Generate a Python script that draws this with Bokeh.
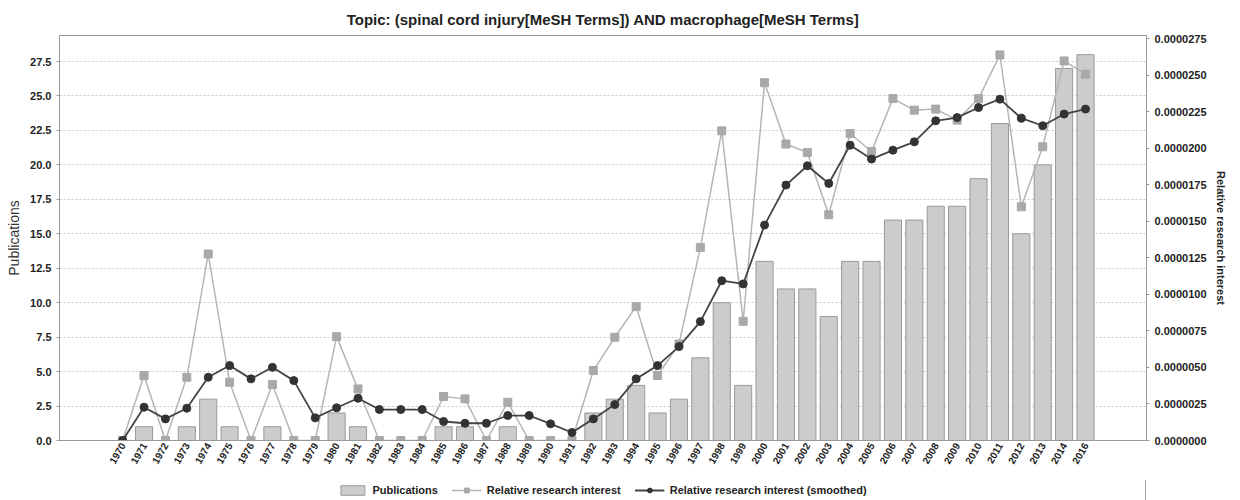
import math
from bokeh.plotting import figure
from bokeh.layouts import column
from bokeh.models import (Range1d, LinearAxis, FixedTicker, PrintfTickFormatter,
                          Legend, LegendItem, ColumnDataSource)
from bokeh.embed import file_html
from bokeh.resources import INLINE

years = ["1970", "1971", "1972", "1973", "1974", "1975", "1976", "1977", "1978", "1979",
         "1980", "1981", "1982", "1983", "1984", "1985", "1986", "1987", "1988", "1989",
         "1990", "1991", "1992", "1993", "1994", "1995", "1996", "1997", "1998", "1999",
         "2000", "2001", "2002", "2003", "2004", "2005", "2006", "2007", "2008", "2009",
         "2010", "2011", "2012", "2013", "2014", "2016"]

publications = [0, 1, 0, 1, 3, 1, 0, 1, 0, 0,
                2, 1, 0, 0, 0, 1, 1, 0, 1, 0,
                0, 0, 2, 3, 4, 2, 3, 6, 10, 4,
                13, 11, 11, 9, 13, 13, 16, 16, 17, 17,
                19, 23, 15, 20, 27, 28]

# relative research interest, in units of 1e-6
rri_raw = [0.0, 4.45, 0.0, 4.33, 12.77, 3.99, 0.0, 3.83, 0.0, 0.0,
           7.11, 3.53, 0.0, 0.0, 0.0, 3.01, 2.85, 0.0, 2.62, 0.0,
           0.0, 0.0, 4.79, 7.07, 9.17, 4.45, 6.61, 13.22, 21.2, 8.16,
           24.5, 20.3, 19.72, 15.46, 21.02, 19.79, 23.41, 22.62, 22.69, 21.94,
           23.41, 26.40, 16.0, 20.11, 25.99, 25.08]

rri_smooth = [0.0, 2.28, 1.48, 2.21, 4.33, 5.13, 4.22, 5.01, 4.10, 1.55,
              2.24, 2.89, 2.12, 2.12, 2.12, 1.30, 1.18, 1.18, 1.71, 1.71,
              1.14, 0.55, 1.48, 2.46, 4.22, 5.13, 6.43, 8.14, 10.94, 10.72,
              14.75, 17.49, 18.81, 17.60, 20.22, 19.27, 19.88, 20.45, 21.89, 22.11,
              22.80, 23.37, 22.07, 21.55, 22.35, 22.69]

idx = list(range(len(years)))
src = ColumnDataSource(dict(
    x=idx,
    pubs=publications,
    raw=[v * 1e-6 for v in rri_raw],
    smooth=[v * 1e-6 for v in rri_smooth],
))

FONT = "Liberation Sans"
BAR_FILL, BAR_LINE = "#cccccc", "#9a9a9a"
RAW_LINE, RAW_PT = "#b5b5b5", "#a9a9a9"
SM_LINE, SM_PT = "#444444", "#333333"

p = figure(frame_width=1087, frame_height=405, output_backend="svg", toolbar_location=None,
           x_range=Range1d(-2.95, 47.85), y_range=Range1d(0, 29.39),
           min_border_left=59, min_border_right=10, min_border_top=27,
           min_border_bottom=40)
p.extra_y_ranges = {"rri": Range1d(0, 27.73e-6)}

p.title.text = "Topic: (spinal cord injury[MeSH Terms]) AND macrophage[MeSH Terms]"
p.title.align = "center"
p.title.text_font = FONT
p.title.text_font_size = "15px"
p.title.text_font_style = "bold"
p.title.text_color = "#222222"
p.title.standoff = 16

p.outline_line_color = "#999999"
p.background_fill_color = "white"
p.border_fill_color = "white"

# bars
p.vbar(x="x", top="pubs", width=0.8, source=src,
       fill_color=BAR_FILL, line_color=BAR_LINE, line_width=1)

# raw relative research interest
p.line(x="x", y="raw", source=src, y_range_name="rri",
       line_color=RAW_LINE, line_width=1.5)
p.scatter(x="x", y="raw", source=src, y_range_name="rri", marker="square",
          size=8, fill_color=RAW_PT, line_color=RAW_PT)

# smoothed
p.line(x="x", y="smooth", source=src, y_range_name="rri",
       line_color=SM_LINE, line_width=1.8)
p.scatter(x="x", y="smooth", source=src, y_range_name="rri", marker="circle",
          size=8, fill_color=SM_PT, line_color=SM_PT)

# x axis
xa = p.xaxis[0]
xa.ticker = FixedTicker(ticks=idx, minor_ticks=[])
xa.major_label_overrides = {i: y for i, y in enumerate(years)}
xa.major_label_orientation = math.pi / 3
xa.major_label_standoff = 3
xa.major_label_text_font = FONT
xa.major_label_text_font_size = "10px"
xa.major_label_text_font_style = "bold"
xa.major_label_text_color = "#222222"
xa.axis_line_color = "#999999"
xa.major_tick_line_color = None
xa.major_tick_out = 0
xa.major_tick_in = 0
xa.minor_tick_line_color = None
xa.minor_tick_out = 0
xa.minor_tick_in = 0
p.xgrid.grid_line_color = None

# left axis
ya = p.yaxis[0]
ya.ticker = FixedTicker(ticks=[i * 2.5 for i in range(12)])
ya.formatter = PrintfTickFormatter(format="%.1f")
ya.axis_label = "Publications"
ya.axis_label_text_font = FONT
ya.axis_label_text_font_size = "14px"
ya.axis_label_text_font_style = "normal"
ya.axis_label_text_color = "#333333"
ya.major_label_text_font = FONT
ya.major_label_text_font_size = "11px"
ya.major_label_text_font_style = "bold"
ya.major_label_text_color = "#222222"
ya.axis_line_color = "#999999"
ya.major_tick_line_color = "#999999"
ya.major_tick_out = 3
ya.major_tick_in = 0
ya.minor_tick_line_color = None

p.ygrid.ticker = FixedTicker(ticks=[i * 2.5 for i in range(12)])
p.ygrid.grid_line_color = "#c8c8c8"
p.ygrid.grid_line_dash = "2 2"

# right axis
ra = LinearAxis(y_range_name="rri",
                ticker=FixedTicker(ticks=[i * 2.5e-6 for i in range(12)]),
                formatter=PrintfTickFormatter(format="%.7f"))
ra.axis_label = "Relative research interest"
ra.axis_label_text_font = FONT
ra.axis_label_text_font_size = "11px"
ra.axis_label_text_font_style = "bold"
ra.axis_label_text_color = "#222222"
ra.axis_label_standoff = 6
ra.major_label_text_font = FONT
ra.major_label_text_font_size = "11px"
ra.major_label_text_font_style = "bold"
ra.major_label_text_color = "#222222"
ra.axis_line_color = "#999999"
ra.major_tick_line_color = "#999999"
ra.major_tick_out = 3
ra.major_tick_in = 0
ra.minor_tick_line_color = None
p.add_layout(ra, "right")

# legend strip: a small figure underneath whose key renderers share the data
# but whose x range lies outside it, so only the legend keys are drawn
lf = figure(width=1229, height=20, output_backend="svg", toolbar_location=None,
            x_range=Range1d(-200, -199), y_range=Range1d(0, 1),
            x_axis_type=None, y_axis_type=None, min_border=0)
lf.outline_line_color = None
lf.xgrid.grid_line_color = None
lf.ygrid.grid_line_color = None
k_bar = lf.vbar(x="x", top="pubs", width=0.8, source=src,
                fill_color=BAR_FILL, line_color=BAR_LINE, line_width=1)
k_raw_l = lf.line(x="x", y="raw", source=src, line_color=RAW_LINE, line_width=1.5)
k_raw_p = lf.scatter(x="x", y="raw", source=src, marker="square", size=8,
                     fill_color=RAW_PT, line_color=RAW_PT)
k_sm_l = lf.line(x="x", y="smooth", source=src, line_color=SM_LINE, line_width=1.8)
k_sm_p = lf.scatter(x="x", y="smooth", source=src, marker="circle", size=8,
                    fill_color=SM_PT, line_color=SM_PT)

legend = Legend(items=[
    LegendItem(label="Publications", renderers=[k_bar]),
    LegendItem(label="Relative research interest", renderers=[k_raw_l, k_raw_p]),
    LegendItem(label="Relative research interest (smoothed)", renderers=[k_sm_l, k_sm_p]),
], orientation="horizontal", location="center")
legend.label_text_font = FONT
legend.label_text_font_size = "11px"
legend.label_text_font_style = "bold"
legend.label_text_color = "#222222"
legend.label_height = 12
legend.border_line_color = None
legend.background_fill_alpha = 0
legend.glyph_width = 30
legend.glyph_height = 12
legend.spacing = 14
legend.padding = 0
legend.margin = 0
lf.add_layout(legend, "center")

layout = column(p, lf, spacing=0)
open("out.html", "w").write(file_html(layout, INLINE))
